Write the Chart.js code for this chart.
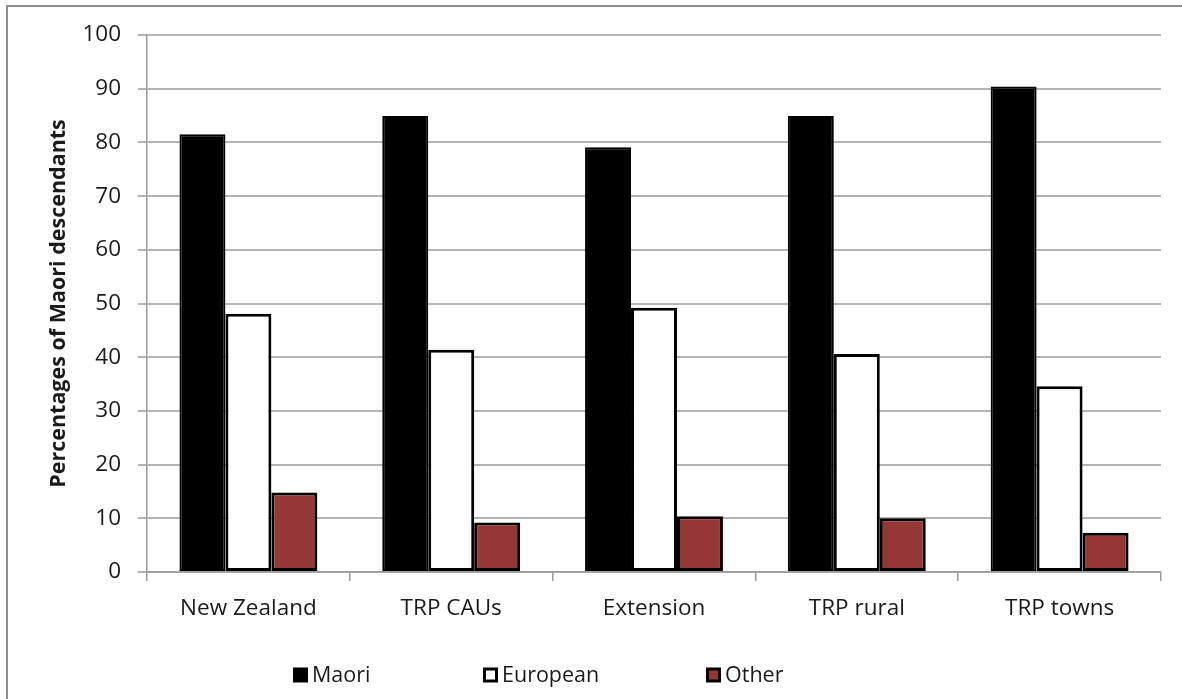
<!DOCTYPE html>
<html>
<head>
<meta charset="utf-8">
<script src="https://cdn.jsdelivr.net/npm/chart.js@4"></script>
<style>
  html, body { margin: 0; padding: 0; background: #fff; }
  #wrap { width: 1182px; height: 699px; position: relative; }
</style>
</head>
<body>
<div id="wrap"><canvas id="c" width="1182" height="699"></canvas></div>
<script>
// Share of people of Maori descent by ethnic group, per area
const categories = ['New Zealand', 'TRP CAUs', 'Extension', 'TRP rural', 'TRP towns'];
const maori    = [81.5, 84.9, 79.1, 84.9, 90.4];
const european = [48.1, 41.4, 49.2, 40.6, 34.6];
const other    = [14.8,  9.2, 10.4, 10.0,  7.3];
const yTicks   = [0, 10, 20, 30, 40, 50, 60, 70, 80, 90, 100];

const FONT = "'Open Sans', 'Noto Sans', sans-serif";
const TEXT = '#1a1a1a';
const GRID = '#b4b4b4';
const AXIS = '#9a9a9a';

// White page with a grey frame on the top and left edges
const framePlugin = {
  id: 'frame',
  beforeDraw(chart) {
    const { ctx, width, height } = chart;
    ctx.save();
    ctx.fillStyle = '#fff';
    ctx.fillRect(0, 0, width, height);
    ctx.strokeStyle = '#8e8e8e';
    ctx.lineWidth = 2;
    ctx.beginPath();
    ctx.moveTo(7, height);
    ctx.lineTo(7, 6);
    ctx.lineTo(width, 6);
    ctx.stroke();
    ctx.restore();
  }
};

// Legend row along the bottom, one swatch per dataset
const legendPlugin = {
  id: 'bottomLegend',
  afterDraw(chart, args, opts) {
    const { ctx } = chart;
    ctx.save();
    ctx.font = opts.fontSize + 'px ' + FONT;
    ctx.textBaseline = 'middle';
    ctx.textAlign = 'left';
    chart.data.datasets.forEach((ds, i) => {
      const x = opts.xs[i];
      const y = opts.y;
      const s = opts.box;
      ctx.fillStyle = '#000';
      ctx.fillRect(x, y - s / 2, s, s);
      const inset = ds.legendInset;
      if (inset > 0) {
        ctx.fillStyle = ds.backgroundColor;
        ctx.fillRect(x + inset, y - s / 2 + inset, s - 2 * inset, s - 2 * inset);
      }
      ctx.fillStyle = TEXT;
      ctx.fillText(ds.label, x + s + 4, y + 1);
    });
    ctx.restore();
  }
};

new Chart(document.getElementById('c'), {
  type: 'bar',
  data: {
    labels: categories,
    datasets: [
      { label: 'Maori', data: maori, backgroundColor: '#000000', borderColor: '#000000', borderWidth: 2, legendInset: 0 },
      { label: 'European', data: european, backgroundColor: '#ffffff', borderColor: '#000000', borderWidth: 3, legendInset: 3 },
      { label: 'Other', data: other, backgroundColor: '#953735', borderColor: '#000000', borderWidth: 3, legendInset: 3 }
    ]
  },
  plugins: [framePlugin, legendPlugin],
  options: {
    responsive: false,
    animation: false,
    devicePixelRatio: 1,
    layout: { padding: { left: 0, top: 35, right: 21, bottom: 0 } },
    datasets: {
      bar: { categoryPercentage: 0.68, barPercentage: 1.0, borderSkipped: false }
    },
    plugins: {
      legend: { display: false },
      tooltip: { enabled: false },
      bottomLegend: { xs: [293, 483, 706], y: 675, box: 15, fontSize: 21.5 }
    },
    scales: {
      x: {
        afterFit(scale) { scale.height = 699 - 572; },
        grid: {
          display: true, drawOnChartArea: false, offset: true,
          tickLength: 9, color: AXIS, lineWidth: 1.5
        },
        border: { display: true, color: AXIS, width: 1.5 },
        ticks: { font: { family: FONT, size: 22.5 }, color: TEXT, padding: 14, maxRotation: 0 }
      },
      y: {
        min: 0, max: 100,
        afterFit(scale) { scale.width = 147; },
        afterBuildTicks(scale) { scale.ticks = yTicks.map(v => ({ value: v })); },
        grid: { color: GRID, lineWidth: 2, tickLength: 9, tickColor: AXIS, tickWidth: 1.5 },
        border: { display: true, color: AXIS, width: 1.5 },
        ticks: { font: { family: FONT, size: 22.5 }, color: TEXT, padding: 17 },
        title: {
          display: true,
          text: 'Percentages of Maori descendants',
          font: { family: FONT, size: 21.5, weight: 'bold' },
          color: TEXT,
          padding: { top: 46, bottom: 0 }
        }
      }
    }
  }
});
</script>
</body>
</html>
